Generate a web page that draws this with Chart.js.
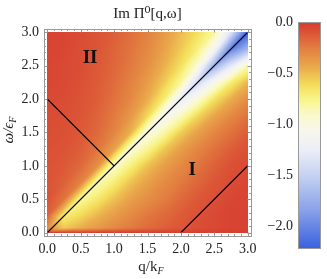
<!DOCTYPE html>
<html>
<head>
<meta charset="utf-8">
<script src="https://cdn.jsdelivr.net/npm/chart.js@4.4.1/dist/chart.umd.min.js"></script>
<style>
  html, body { margin: 0; padding: 0; background: #fff; }
  #wrap { position: relative; width: 327px; height: 279px; }
  #mainChart { position: absolute; left: 0; top: 0; }
  #barChart { position: absolute; left: 255px; top: 0; }
</style>
</head>
<body>
<div id="wrap">
  <canvas id="mainChart" width="265" height="279"></canvas>
  <canvas id="barChart" width="72" height="279"></canvas>
</div>
<script>
// --- データ ---
const qValues = [0, 0.25, 0.5, 0.75, 1, 1.25, 1.5, 1.75, 2, 2.25, 2.5, 2.75, 3];
const omegaValues = [0, 0.07, 0.25, 0.5, 0.75, 1, 1.25, 1.5, 1.75, 2, 2.25, 2.5, 2.75, 3];

// Im Π0 の値 (各 ω の行, q は qValues の順)
const rowW000 = [-0.02, -0.02, -0.02, -0.02, -0.02, -0.02, -0.02, -0.02, -0.02, -0.02, -0.02, -0.02, -0.02];
const rowW007 = [-0.30, -0.55, -0.45, -0.37, -0.30, -0.24, -0.19, -0.15, -0.11, -0.08, -0.06, -0.04, -0.03];
const rowW025 = [-0.15, -0.70, -0.60, -0.48, -0.38, -0.30, -0.23, -0.18, -0.13, -0.09, -0.06, -0.04, -0.03];
const rowW050 = [-0.10, -0.22, -0.80, -0.67, -0.52, -0.40, -0.32, -0.25, -0.18, -0.12, -0.08, -0.05, -0.04];
const rowW075 = [-0.10, -0.15, -0.27, -0.86, -0.70, -0.52, -0.40, -0.31, -0.24, -0.17, -0.11, -0.07, -0.05];
const rowW100 = [-0.10, -0.12, -0.18, -0.32, -0.92, -0.72, -0.52, -0.39, -0.30, -0.22, -0.15, -0.09, -0.06];
const rowW125 = [-0.09, -0.10, -0.14, -0.22, -0.40, -0.97, -0.77, -0.54, -0.39, -0.29, -0.21, -0.14, -0.09];
const rowW150 = [-0.08, -0.09, -0.12, -0.18, -0.28, -0.47, -1.02, -0.82, -0.56, -0.40, -0.29, -0.21, -0.14];
const rowW175 = [-0.07, -0.08, -0.11, -0.16, -0.24, -0.36, -0.60, -1.12, -0.88, -0.60, -0.42, -0.30, -0.21];
const rowW200 = [-0.06, -0.07, -0.10, -0.14, -0.21, -0.30, -0.45, -0.70, -1.25, -0.96, -0.64, -0.45, -0.32];
const rowW225 = [-0.05, -0.06, -0.09, -0.13, -0.19, -0.27, -0.38, -0.55, -0.80, -1.45, -1.05, -0.70, -0.48];
const rowW250 = [-0.05, -0.06, -0.08, -0.12, -0.17, -0.24, -0.33, -0.46, -0.63, -0.95, -1.75, -1.30, -0.85];
const rowW275 = [-0.04, -0.05, -0.08, -0.11, -0.16, -0.22, -0.30, -0.41, -0.55, -0.72, -1.10, -2.05, -1.70];
const rowW300 = [-0.04, -0.05, -0.07, -0.10, -0.14, -0.20, -0.27, -0.37, -0.50, -0.63, -0.80, -1.35, -2.21];
const imPiRows = [rowW000, rowW007, rowW025, rowW050, rowW075, rowW100, rowW125,
                  rowW150, rowW175, rowW200, rowW225, rowW250, rowW275, rowW300];

// 境界線 (ω = q, ω = 2 - q, ω = q - 2)
const lineQ = [[0, 3], [0, 1], [2, 3]];
const lineW = [[0, 3], [2, 1], [0, 1]];

// 領域ラベル
const regionNames = ['II', 'I'];
const regionQ = [0.64, 2.17];
const regionW = [2.61, 0.94];

// 目盛り
const axisTicks = [0, 0.5, 1, 1.5, 2, 2.5, 3];
const barTicks = [0, -0.5, -1, -1.5, -2];
const barMin = -2.21;
const barMax = 0;

// --- カラーマップ ---
const cmapStops = [
    [0.0, 214, 58, 48],
    [-0.12, 220, 88, 55],
    [-0.25, 226, 125, 64],
    [-0.45, 234, 172, 76],
    [-0.62, 244, 222, 92],
    [-0.75, 248, 244, 135],
    [-0.9, 250, 249, 200],
    [-1.05, 248, 247, 235],
    [-1.25, 236, 238, 248],
    [-1.5, 198, 210, 242],
    [-1.85, 135, 160, 232],
    [-2.21, 58, 98, 224]
];

function colorFor(v) {
    if (v >= cmapStops[0][0]) return cmapStops[0].slice(1);
    for (let i = 1; i < cmapStops.length; i++) {
        const a = cmapStops[i - 1], b = cmapStops[i];
        if (v >= b[0]) {
            const t = (a[0] - v) / (a[0] - b[0]);
            return [a[1] + t * (b[1] - a[1]), a[2] + t * (b[2] - a[2]), a[3] + t * (b[3] - a[3])];
        }
    }
    return cmapStops[cmapStops.length - 1].slice(1);
}

function locate(arr, v) {
    let i = 0;
    while (i < arr.length - 2 && v > arr[i + 1]) i++;
    return i;
}

// 三角形分割で格子値を読む (対角線方向に分割)
function sampleGrid(q, w) {
    q = Math.min(Math.max(q, qValues[0]), qValues[qValues.length - 1]);
    w = Math.min(Math.max(w, omegaValues[0]), omegaValues[omegaValues.length - 1]);
    const i = locate(qValues, q);
    const j = locate(omegaValues, w);
    const s = (q - qValues[i]) / (qValues[i + 1] - qValues[i]);
    const t = (w - omegaValues[j]) / (omegaValues[j + 1] - omegaValues[j]);
    const f00 = imPiRows[j][i], f10 = imPiRows[j][i + 1];
    const f01 = imPiRows[j + 1][i], f11 = imPiRows[j + 1][i + 1];
    if (t <= s) return f00 + s * (f10 - f00) + t * (f11 - f10);
    return f00 + t * (f01 - f00) + s * (f11 - f01);
}

const FONT = "'Liberation Serif', 'DejaVu Serif', serif";
const TEXT_COLOR = '#222';
const FRAME_COLOR = '#999';

// --- 密度プロット描画 ---
const heatmapPlugin = {
    id: 'heatmap',
    beforeDatasetsDraw(chart) {
        const { ctx, scales: { x, y } } = chart;
        const x0 = Math.round(x.getPixelForValue(qValues[0]));
        const x1 = Math.round(x.getPixelForValue(qValues[qValues.length - 1]));
        const y0 = Math.round(y.getPixelForValue(omegaValues[omegaValues.length - 1]));
        const y1 = Math.round(y.getPixelForValue(omegaValues[0]));
        const w = x1 - x0, h = y1 - y0;
        const img = ctx.createImageData(w, h);
        for (let py = 0; py < h; py++) {
            const om = y.getValueForPixel(y0 + py + 0.5);
            for (let px = 0; px < w; px++) {
                const q = x.getValueForPixel(x0 + px + 0.5);
                const c = colorFor(sampleGrid(q, om));
                const k = (py * w + px) * 4;
                img.data[k] = c[0];
                img.data[k + 1] = c[1];
                img.data[k + 2] = c[2];
                img.data[k + 3] = 255;
            }
        }
        ctx.putImageData(img, x0, y0);
    }
};

// --- 枠, 目盛り, ラベル ---
const framePlugin = {
    id: 'frame',
    afterDatasetsDraw(chart) {
        const { ctx, chartArea: a, scales: { x, y } } = chart;
        ctx.save();
        ctx.strokeStyle = FRAME_COLOR;
        ctx.lineWidth = 1;
        ctx.strokeRect(Math.round(a.left) + 0.5, Math.round(a.top) + 0.5,
            Math.round(a.right - a.left), Math.round(a.bottom - a.top));

        // 内向きの目盛り (主 0.5, 副 0.1)
        ctx.beginPath();
        for (let i = 0; i <= 30; i++) {
            const v = i / 10;
            const len = i % 5 === 0 ? 3.5 : 2;
            const px = Math.round(x.getPixelForValue(v)) + 0.5;
            const py = Math.round(y.getPixelForValue(v)) + 0.5;
            ctx.moveTo(px, a.bottom); ctx.lineTo(px, a.bottom - len);
            ctx.moveTo(px, a.top); ctx.lineTo(px, a.top + len);
            ctx.moveTo(a.left, py); ctx.lineTo(a.left + len, py);
            ctx.moveTo(a.right, py); ctx.lineTo(a.right - len, py);
        }
        ctx.stroke();

        // 領域ラベル
        ctx.fillStyle = '#111';
        ctx.font = 'bold 19px ' + FONT;
        ctx.textAlign = 'center';
        ctx.textBaseline = 'middle';
        regionNames.forEach((name, i) => {
            ctx.fillText(name, x.getPixelForValue(regionQ[i]), y.getPixelForValue(regionW[i]));
        });
        ctx.restore();
    },
    afterDraw(chart) {
        const { ctx, chartArea: a } = chart;
        ctx.save();
        ctx.fillStyle = TEXT_COLOR;
        ctx.textBaseline = 'alphabetic';

        // タイトル (枠の中央)
        ctx.textAlign = 'center';
        ctx.font = '15px ' + FONT;
        ctx.fillText('Im Π⁰[q,ω]', (a.left + a.right) / 2, 18);
        ctx.textAlign = 'left';

        // x 軸ラベル q/k_F
        ctx.font = '15px ' + FONT;
        const mainX = 'q/k';
        const wMainX = ctx.measureText(mainX).width;
        ctx.font = 'italic 10px ' + FONT;
        const wSubX = ctx.measureText('F').width;
        let sx = 151 - (wMainX + wSubX) / 2;
        ctx.font = '15px ' + FONT;
        ctx.fillText(mainX, sx, 271);
        ctx.font = 'italic 10px ' + FONT;
        ctx.fillText('F', sx + wMainX, 274);

        // y 軸ラベル ω/ϵ_F (回転)
        ctx.translate(13, 130);
        ctx.rotate(-Math.PI / 2);
        ctx.font = 'italic 15px ' + FONT;
        const mainY = 'ω/ϵ';
        const wMainY = ctx.measureText(mainY).width;
        ctx.font = 'italic 10px ' + FONT;
        const wSubY = ctx.measureText('F').width;
        const sy = -(wMainY + wSubY) / 2;
        ctx.font = 'italic 15px ' + FONT;
        ctx.fillText(mainY, sy, 0);
        ctx.font = 'italic 10px ' + FONT;
        ctx.fillText('F', sy + wMainY, 3);
        ctx.restore();
    }
};

function axisOptions(fitFn) {
    return {
        type: 'linear',
        min: -0.05,
        max: 3.05,
        afterBuildTicks: s => { s.ticks = axisTicks.map(v => ({ value: v })); },
        afterFit: fitFn,
        ticks: {
            autoSkip: false,
            maxRotation: 0,
            padding: 5,
            color: TEXT_COLOR,
            font: { family: FONT, size: 14 },
            callback: v => Number(v).toFixed(1)
        },
        grid: { display: false, drawTicks: false },
        border: { display: false }
    };
}

new Chart(document.getElementById('mainChart'), {
    type: 'scatter',
    data: {
        datasets: lineQ.map((qs, i) => ({
            data: qs.map((q, k) => ({ x: q, y: lineW[i][k] })),
            showLine: true,
            borderColor: '#000',
            borderWidth: 1.3,
            pointRadius: 0
        }))
    },
    options: {
        responsive: false,
        animation: false,
        devicePixelRatio: 1,
        layout: { padding: { left: 0, right: 14, top: 29, bottom: 0 } },
        plugins: {
            legend: { display: false },
            tooltip: { enabled: false },
            title: { display: false }
        },
        scales: {
            x: axisOptions(s => { s.height = 43; }),
            y: axisOptions(s => { s.width = 44; })
        }
    },
    plugins: [heatmapPlugin, framePlugin]
});

// --- カラーバー ---
const colorbarPlugin = {
    id: 'colorbar',
    beforeDatasetsDraw(chart) {
        const { ctx, chartArea: a, scales: { y } } = chart;
        ctx.save();
        for (let py = Math.round(a.top); py < Math.round(a.bottom); py++) {
            const c = colorFor(y.getValueForPixel(py + 0.5));
            ctx.fillStyle = `rgb(${Math.round(c[0])},${Math.round(c[1])},${Math.round(c[2])})`;
            ctx.fillRect(a.left, py, a.right - a.left, 1);
        }
        ctx.strokeStyle = FRAME_COLOR;
        ctx.lineWidth = 1;
        ctx.strokeRect(Math.round(a.left) + 0.5, Math.round(a.top) + 0.5,
            Math.round(a.right - a.left), Math.round(a.bottom - a.top));
        ctx.restore();
    }
};

new Chart(document.getElementById('barChart'), {
    type: 'scatter',
    data: { datasets: [] },
    options: {
        responsive: false,
        animation: false,
        devicePixelRatio: 1,
        layout: { padding: { left: 0, right: 7, top: 22, bottom: 31 } },
        plugins: { legend: { display: false }, tooltip: { enabled: false } },
        scales: {
            x: { display: false, min: 0, max: 1 },
            y: {
                min: barMin,
                max: barMax,
                afterBuildTicks: s => { s.ticks = barTicks.map(v => ({ value: v })); },
                afterFit: s => { s.width = 43; },
                ticks: {
                    autoSkip: false,
                    padding: 5,
                    color: TEXT_COLOR,
                    font: { family: FONT, size: 14 },
                    callback: v => (v === 0 ? '0.0' : '\u2212' + Math.abs(v).toFixed(1))
                },
                grid: { display: false, drawTicks: false },
                border: { display: false }
            }
        }
    },
    plugins: [colorbarPlugin]
});
</script>
</body>
</html>
